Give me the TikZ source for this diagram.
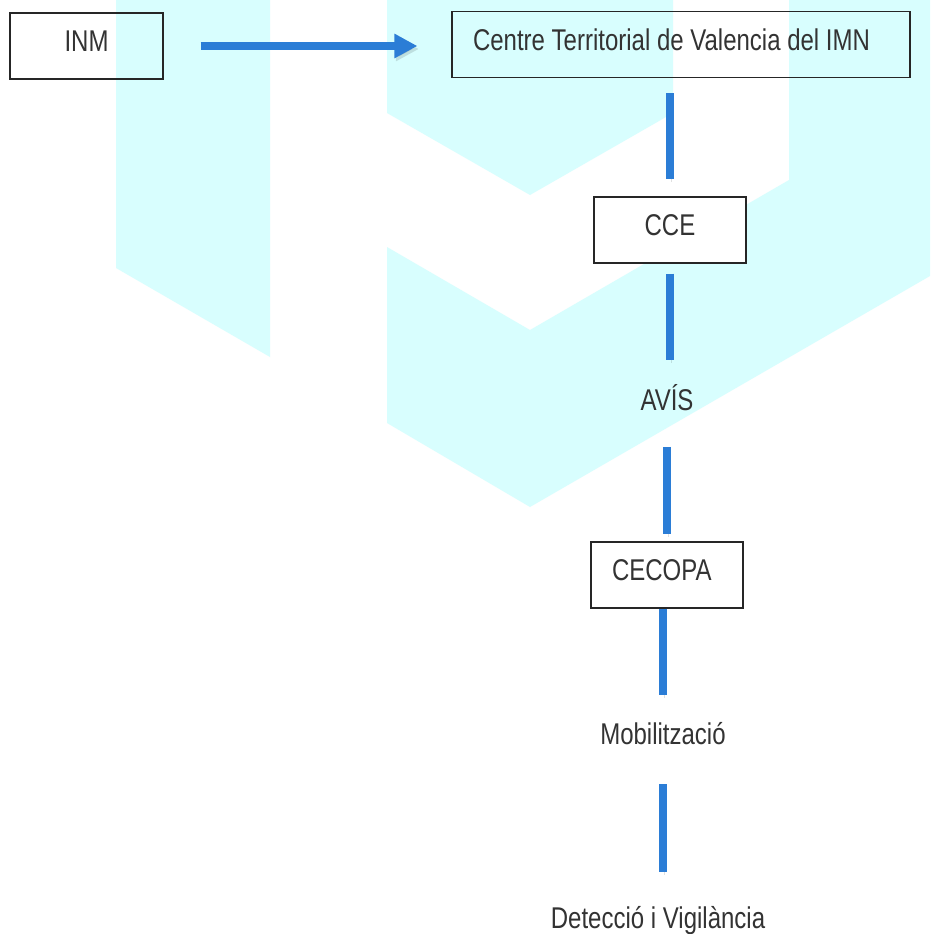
\documentclass[tikz,border=0pt]{standalone}
\usepackage{fontspec}
\setmainfont[FakeStretch=0.8]{Liberation Sans}
\usepackage{xcolor}
\usepackage{tikz}
\usetikzlibrary{arrows.meta, positioning}
\definecolor{bgcyan}{RGB}{216,254,254}
\definecolor{linkblue}{RGB}{43,125,214}

\begin{document}
\begin{tikzpicture}[
  x=1pt, y=-1pt,
  box/.style={draw=black!85, line width=1.2pt, inner xsep=21pt, inner ysep=0pt,
              minimum height=66pt, text height=21.5pt, text depth=10pt,
              font=\fontsize{30}{36}\selectfont, text=black!80, align=flush left},
  lbl/.style={inner sep=0pt, text height=21.5pt, text depth=0pt,
              font=\fontsize{30}{36}\selectfont, text=black!80},
  link/.style={draw=linkblue, line width=8pt,
               preaction={draw=black, opacity=0.12, transform canvas={shift={(1.5pt,-3pt)}}}},
  arr/.style={link, -{Triangle[length=23pt, width=23pt]}},
]
  \fill[white] (0,0) rectangle (930,934);
  \useasboundingbox (0,0) rectangle (930,934);

  \fill[bgcyan] (116,0) -- (270,0) -- (270,357) -- (116,268) -- cycle;
  \fill[bgcyan] (387,0) -- (673,0) -- (673,113) -- (530,195) -- (387,113) -- cycle;
  \fill[bgcyan] (387,247) -- (530,330) -- (789,180) -- (789,0) -- (930,0)
                -- (930,276) -- (530,507) -- (387,423) -- cycle;

  \node[box, text width=111pt, align=center] (inm)    at (86.5,46)  {INM};
  \node[box, text width=416pt]               (ctv)    at (681,44.5) {Centre Territorial de Valencia del IMN};
  \node[box, text width=110pt, align=center, fill=white] (cce) at (670,230) {CCE};
  \node[lbl]                                 (avis)   at (667,400)  {AVÍS};
  \node[box, text width=110pt]               (cecopa) at (667,575)  {CECOPA};
  \node[lbl]                                 (mob)    at (663,733.5) {Mobilització};
  \node[lbl]                                 (det)    at (658,918)  {Detecció i Vigilància};

  \draw[arr, shorten <=37pt, shorten >=34pt] (inm.east) -- (inm.east -| ctv.west);
  \draw[link, shorten <=15pt, shorten >=17pt] (ctv.south -| cce.north) -- (cce.north);
  \draw[link, shorten <=10pt, shorten >=29pt] (cce.south) -- (cce.south |- avis.north);
  \draw[link, shorten <=36pt, shorten >=7pt] (avis.south) -- (avis.south |- cecopa.north);
  \draw[link, shorten >=28pt] (cecopa.south -| mob.north) -- (mob.north);
  \draw[link, shorten <=40pt, shorten >=35pt] (mob.south) -- (mob.south |- det.north);
\end{tikzpicture}
\end{document}
